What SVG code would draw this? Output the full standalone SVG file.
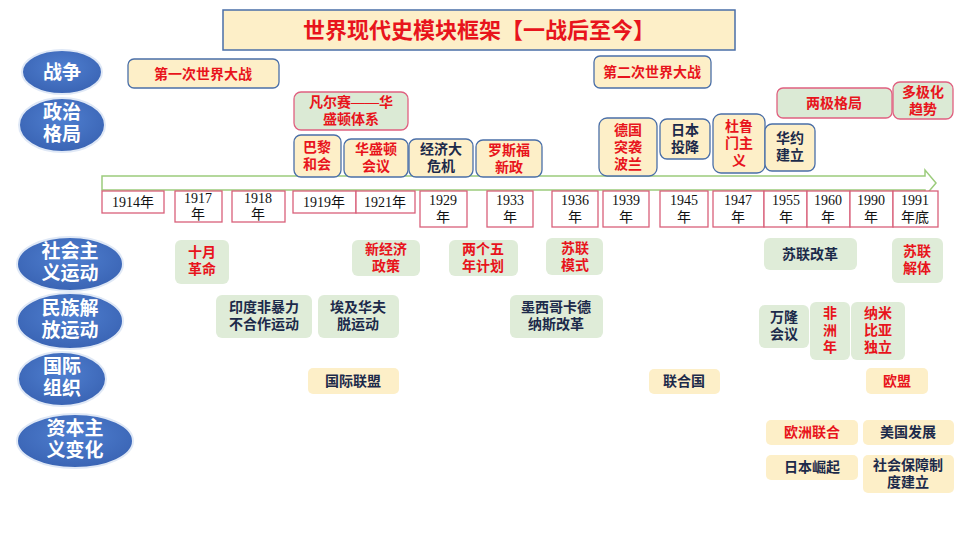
<svg xmlns="http://www.w3.org/2000/svg" width="960" height="540" viewBox="0 0 960 540">
<defs>
<radialGradient id="eg" cx="50%" cy="40%" r="60%"><stop offset="0" stop-color="#4f7fd0"/><stop offset="1" stop-color="#3a64b4"/></radialGradient>
<style>
text{font-family:"Liberation Serif","Noto Sans CJK SC",serif;font-weight:bold;text-anchor:middle}
.ell{fill:url(#eg);stroke:#dfe8f6;stroke-width:2}
.et{fill:#fff;font-size:19px}
.cb{fill:#fdefc8;stroke:#4a6fa8;stroke-width:1.3}
.gp{fill:#dbead5;stroke:#e06080;stroke-width:1.3}
.g{fill:#dfecd8}
.c{fill:#fdefc8}
.yr{fill:#fff;stroke:#d9607a;stroke-width:1.3}
.r{fill:#e8141c;font-size:14px}
.n{fill:#1c2a4a;font-size:14px}
.y{fill:#111;font-size:14px;font-weight:normal}
</style>
</defs>
<rect width="960" height="540" fill="#fff"/>
<g id="title"><rect x="223" y="10" width="512" height="40" fill="#fdefc8" stroke="#4a6fa8" stroke-width="1.5"/><text x="479" y="38" fill="#e8141c" style="font-size:22px">世界现代史模块框架【一战后至今】</text></g>
<g id="cats">
<ellipse class="ell" cx="62" cy="72" rx="40" ry="22"/><text class="et" x="62" y="79">战争</text>
<ellipse class="ell" cx="62" cy="125" rx="43" ry="27"/><text class="et" x="62" y="119">政治</text><text class="et" x="62" y="141">格局</text>
<ellipse class="ell" cx="70" cy="264" rx="53" ry="27"/><text class="et" x="70" y="258">社会主</text><text class="et" x="70" y="280">义运动</text>
<ellipse class="ell" cx="70" cy="321" rx="53" ry="28"/><text class="et" x="70" y="315">民族解</text><text class="et" x="70" y="337">放运动</text>
<ellipse class="ell" cx="62" cy="379" rx="44" ry="27"/><text class="et" x="62" y="373">国际</text><text class="et" x="62" y="395">组织</text>
<ellipse class="ell" cx="75" cy="441" rx="58" ry="27"/><text class="et" x="75" y="435">资本主</text><text class="et" x="75" y="457">义变化</text>
</g>
<g id="connectors"><path d="M102 176 H925 V170 L936 183 L925 196 V190 H102 Z" fill="#fff" stroke="#9ccc7c" stroke-width="1.5"/></g>
<g id="years">
<rect class="yr" x="102" y="191" width="62" height="22"/><text class="y" x="133" y="207">1914年</text>
<rect class="yr" x="175" y="191" width="47" height="31"/><text class="y" x="198" y="203">1917</text><text class="y" x="198" y="219">年</text>
<rect class="yr" x="232" y="191" width="53" height="31"/><text class="y" x="258" y="203">1918</text><text class="y" x="258" y="219">年</text>
<rect class="yr" x="293" y="191" width="63" height="22"/><text class="y" x="324" y="207">1919年</text>
<rect class="yr" x="356" y="191" width="59" height="22"/><text class="y" x="385" y="207">1921年</text>
<rect class="yr" x="420" y="191" width="47" height="36"/><text class="y" x="443" y="205">1929</text><text class="y" x="443" y="222">年</text>
<rect class="yr" x="487" y="191" width="46" height="36"/><text class="y" x="510" y="205">1933</text><text class="y" x="510" y="222">年</text>
<rect class="yr" x="552" y="191" width="46" height="36"/><text class="y" x="575" y="205">1936</text><text class="y" x="575" y="222">年</text>
<rect class="yr" x="603" y="191" width="46" height="36"/><text class="y" x="626" y="205">1939</text><text class="y" x="626" y="222">年</text>
<rect class="yr" x="660" y="191" width="48" height="36"/><text class="y" x="684" y="205">1945</text><text class="y" x="684" y="222">年</text>
<rect class="yr" x="713" y="191" width="51" height="36"/><text class="y" x="738" y="205">1947</text><text class="y" x="738" y="222">年</text>
<rect class="yr" x="764" y="191" width="43" height="36"/><text class="y" x="786" y="205">1955</text><text class="y" x="786" y="222">年</text>
<rect class="yr" x="807" y="191" width="43" height="36"/><text class="y" x="828" y="205">1960</text><text class="y" x="828" y="222">年</text>
<rect class="yr" x="850" y="191" width="43" height="36"/><text class="y" x="871" y="205">1990</text><text class="y" x="871" y="222">年</text>
<rect class="yr" x="893" y="191" width="45" height="36"/><text class="y" x="915" y="205">1991</text><text class="y" x="915" y="222">年底</text>
</g>
<g id="war">
<rect class="cb" x="128" y="59" width="151" height="29" rx="6"/><text class="r" x="203" y="79">第一次世界大战</text>
<rect class="cb" x="594" y="56" width="117" height="32" rx="6"/><text class="r" x="652" y="77">第二次世界大战</text>
</g>
<g id="politics">
<rect class="gp" x="294" y="92" width="114" height="38" rx="7"/><text class="r" x="351" y="107">凡尔赛——华</text><text class="r" x="351" y="124">盛顿体系</text>
<rect class="cb" x="294" y="135" width="47" height="42" rx="7"/><text class="r" x="317" y="152">巴黎</text><text class="r" x="317" y="169">和会</text>
<rect class="cb" x="344" y="139" width="64" height="38" rx="7"/><text class="r" x="376" y="154">华盛顿</text><text class="r" x="376" y="171">会议</text>
<rect class="cb" x="409" y="139" width="64" height="38" rx="7"/><text class="n" x="441" y="154">经济大</text><text class="n" x="441" y="171">危机</text>
<rect class="cb" x="476" y="140" width="66" height="37" rx="7"/><text class="r" x="509" y="155">罗斯福</text><text class="r" x="509" y="172">新政</text>
<rect class="cb" x="599" y="118" width="58" height="58" rx="8"/><text class="r" x="628" y="135">德国</text><text class="r" x="628" y="152">突袭</text><text class="r" x="628" y="169">波兰</text>
<rect class="cb" x="660" y="119" width="50" height="40" rx="7"/><text class="n" x="685" y="135">日本</text><text class="n" x="685" y="152">投降</text>
<rect class="cb" x="713" y="114" width="52" height="59" rx="8"/><text class="r" x="739" y="131">杜鲁</text><text class="r" x="739" y="148">门主</text><text class="r" x="739" y="165">义</text>
<rect class="cb" x="765" y="124" width="50" height="47" rx="7"/><text class="n" x="790" y="143">华约</text><text class="n" x="790" y="160">建立</text>
<rect class="gp" x="777" y="88" width="115" height="30" rx="6"/><text class="r" x="834" y="108">两极格局</text>
<rect class="gp" x="893" y="82" width="60" height="37" rx="7"/><text class="r" x="923" y="97">多极化</text><text class="r" x="923" y="114">趋势</text>
</g>
<g id="socialism">
<rect class="g" x="175" y="240" width="54" height="44" rx="6"/><text class="r" x="202" y="257">十月</text><text class="r" x="202" y="274">革命</text>
<rect class="g" x="352" y="240" width="68" height="36" rx="6"/><text class="r" x="386" y="254">新经济</text><text class="r" x="386" y="271">政策</text>
<rect class="g" x="449" y="240" width="69" height="36" rx="6"/><text class="r" x="483" y="254">两个五</text><text class="r" x="483" y="271">年计划</text>
<rect class="g" x="546" y="238" width="57" height="37" rx="6"/><text class="r" x="575" y="253">苏联</text><text class="r" x="575" y="270">模式</text>
<rect class="g" x="764" y="238" width="93" height="32" rx="6"/><text class="n" x="810" y="259">苏联改革</text>
<rect class="g" x="892" y="238" width="51" height="45" rx="6"/><text class="r" x="917" y="256">苏联</text><text class="r" x="917" y="273">解体</text>
</g>
<g id="liberation">
<rect class="g" x="216" y="295" width="96" height="43" rx="6"/><text class="n" x="264" y="312">印度非暴力</text><text class="n" x="264" y="329">不合作运动</text>
<rect class="g" x="318" y="295" width="81" height="43" rx="6"/><text class="n" x="358" y="312">埃及华夫</text><text class="n" x="358" y="329">脱运动</text>
<rect class="g" x="510" y="295" width="93" height="43" rx="6"/><text class="n" x="556" y="312">墨西哥卡德</text><text class="n" x="556" y="329">纳斯改革</text>
<rect class="g" x="759" y="305" width="50" height="43" rx="6"/><text class="n" x="784" y="322">万隆</text><text class="n" x="784" y="339">会议</text>
<rect class="g" x="810" y="302" width="40" height="58" rx="6"/><text class="r" x="830" y="318">非</text><text class="r" x="830" y="335">洲</text><text class="r" x="830" y="352">年</text>
<rect class="g" x="851" y="302" width="54" height="58" rx="6"/><text class="r" x="878" y="318">纳米</text><text class="r" x="878" y="335">比亚</text><text class="r" x="878" y="352">独立</text>
</g>
<g id="intl">
<rect class="c" x="308" y="368" width="91" height="26" rx="5"/><text class="n" x="353" y="386">国际联盟</text>
<rect class="c" x="649" y="369" width="71" height="25" rx="5"/><text class="n" x="684" y="386">联合国</text>
<rect class="c" x="866" y="368" width="62" height="26" rx="5"/><text class="r" x="897" y="386">欧盟</text>
</g>
<g id="capitalism">
<rect class="c" x="766" y="420" width="92" height="25" rx="5"/><text class="r" x="812" y="437">欧洲联合</text>
<rect class="c" x="863" y="420" width="91" height="25" rx="5"/><text class="n" x="908" y="437">美国发展</text>
<rect class="c" x="766" y="455" width="92" height="25" rx="5"/><text class="n" x="812" y="472">日本崛起</text>
<rect class="c" x="863" y="455" width="91" height="38" rx="5"/><text class="n" x="908" y="470">社会保障制</text><text class="n" x="908" y="487">度建立</text>
</g>
</svg>
